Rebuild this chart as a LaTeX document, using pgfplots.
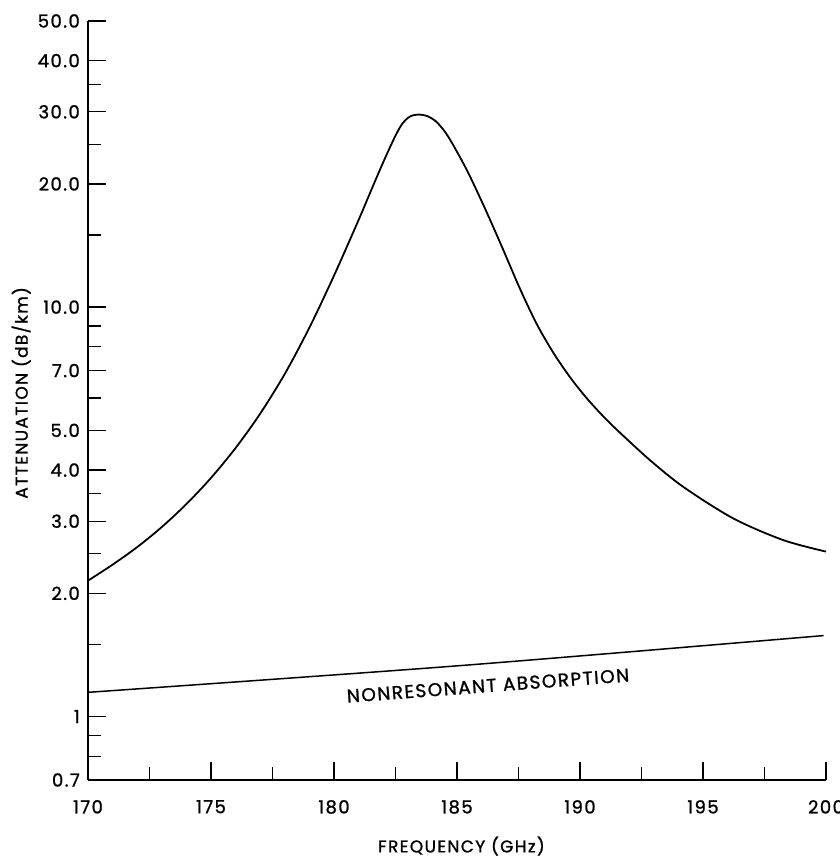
\documentclass[border=0pt]{standalone}
\usepackage{fontspec}
\setmainfont{Poppins}
\newfontfamily\lab[LetterSpace=8,FakeBold=1.2]{Poppins}
\usepackage{pgfplots}
\pgfplotsset{compat=1.18}
\begin{document}
\begin{tikzpicture}
\path[use as bounding box] (-88pt,-78pt) rectangle (751pt,780pt);
\begin{axis}[
  at={(0,0)}, anchor=south west,
  scale only axis, width=738pt, height=759pt,
  ymode=log, xmin=170, xmax=200, ymin=0.7, ymax=50,
  axis lines*=left, axis line style={line width=1.6pt},
  tick align=inside, tick style={line width=1.3pt, black},
  major tick length=18pt, minor tick length=13pt,
  xtick={170,175,180,185,190,195,200},
  xticklabels={170,175,180,185,190,195,200},
  minor xtick={172.5,177.5,182.5,187.5,192.5,197.5},
  ytick={0.7,1,2,3,4,5,7,10,20,30,40,50},
  yticklabels={0.7,1,2.0,3.0,4.0,5.0,7.0,10.0,20.0,30.0,40.0,50.0},
  minor ytick={0.8,0.9,1.5,2.5,3.5,6,8,9,15,25,35},
  yticklabel style={font=\lab\fontsize{18}{18}\selectfont, anchor=east, inner sep=0pt, xshift=-8pt},
  xticklabel style={font=\lab\fontsize{18}{18}\selectfont, anchor=north, inner sep=0pt, yshift=-20pt},
  xlabel={FREQUENCY (GHz)},
  ylabel={ATTENUATION (dB/km)},
  xlabel style={font=\lab\fontsize{17}{17}\selectfont, at={(axis description cs:0.506,-0.087)}, anchor=center},
  ylabel style={font=\lab\fontsize{17}{17}\selectfont, at={(axis description cs:-0.0905,0.51)}, anchor=center},
  clip=false,
]
\addplot[black, line width=1.8pt, smooth, tension=0.5] table {
x y
170.00 2.148
171.00 2.350
172.00 2.594
173.00 2.904
174.00 3.304
175.00 3.828
176.00 4.529
177.00 5.495
178.00 6.871
179.00 8.913
180.00 11.94
181.00 16.33
181.50 19.23
182.00 22.59
182.50 26.24
182.80 28.18
183.10 29.24
183.45 29.54
183.80 29.27
184.10 28.58
184.40 27.35
184.72 25.64
185.39 21.68
186.07 17.78
186.75 14.39
187.56 11.09
188.24 9.099
188.91 7.75
189.59 6.75
190.27 5.995
190.95 5.408
191.63 4.932
192.85 4.227
194.20 3.639
196.23 3.048
198.26 2.698
200.00 2.529
};
\addplot[black, line width=1.5pt, smooth] table {
x y
170 1.146
185 1.33
199.9 1.577
};
\node[font=\lab\fontsize{18.5}{18.5}\selectfont, rotate=4.3, anchor=center] at (axis cs:186.26,1.19) {NONRESONANT ABSORPTION};
\end{axis}
\end{tikzpicture}
\end{document}
